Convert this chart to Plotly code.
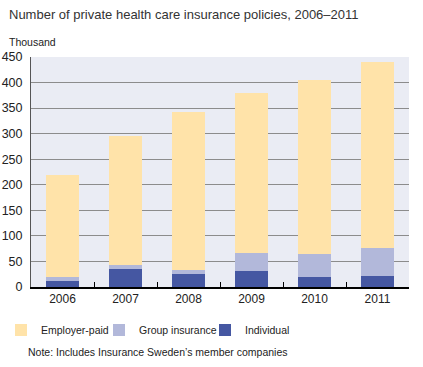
import plotly.graph_objects as go

years = ["2006", "2007", "2008", "2009", "2010", "2011"]
individual = [11, 36, 26, 32, 20, 22]
group_ins = [8, 7, 8, 35, 45, 55]
employer = [200, 252, 309, 312, 340, 364]

colors = {"Employer-paid": "#FFE3A9", "Group insurance": "#B2B8DA", "Individual": "#4557A2"}
legend_ids = {"Employer-paid": "legend", "Group insurance": "legend2", "Individual": "legend3"}

L, R, T, B = 31, 14, 57, 80
W, H = 423, 367
pw, ph = W - L - R, H - T - B

def px_x(x):
    return (x - L) / pw

def px_y(y):
    return (H - B - y) / ph

fig = go.Figure()
for name, vals in [("Individual", individual), ("Group insurance", group_ins), ("Employer-paid", employer)]:
    fig.add_trace(go.Bar(x=years, y=vals, name=name, legend=legend_ids[name],
                         marker=dict(color=colors[name], line=dict(width=0))))

def leg(text_x):
    return dict(orientation="h", x=px_x(text_x - 40), y=px_y(330), xanchor="left", yanchor="middle",
                font=dict(size=10.5), bgcolor="rgba(0,0,0,0)", itemwidth=30, borderwidth=0)

fig.update_layout(
    width=W, height=H,
    margin=dict(l=L, r=R, t=T, b=B, autoexpand=False),
    barmode="stack",
    bargap=0.47,
    paper_bgcolor="white",
    plot_bgcolor="#EAECF4",
    font=dict(family="Liberation Sans, Arial, sans-serif", color="#222222", size=12),
    showlegend=True,
    legend=leg(41), legend2=leg(139), legend3=leg(245),
    xaxis=dict(range=[-0.5, 5.5], showline=True, linecolor="black", linewidth=2, automargin=False,
               ticks="inside", tickson="boundaries", ticklen=5, tickcolor="black", tickwidth=1,
               showgrid=False, tickfont=dict(size=12), fixedrange=True),
    yaxis=dict(range=[0, 450], tickvals=[0, 50, 100, 150, 200, 250, 300, 350, 400, 450], automargin=False,
               showgrid=True, gridcolor="#8C8C8C", gridwidth=1, showline=True, linecolor="#555555", linewidth=1,
               ticks="", zeroline=False, tickfont=dict(size=12.5), ticklabelstandoff=5, fixedrange=True),
    annotations=[
        dict(text="Number of private health care insurance policies, 2006–2011", xref="paper", yref="paper",
             x=px_x(7), y=px_y(15), xanchor="left", yanchor="middle", showarrow=False,
             font=dict(size=13, color="#333333")),
        dict(text="Thousand", xref="paper", yref="paper",
             x=px_x(7), y=px_y(42), xanchor="left", yanchor="middle", showarrow=False,
             font=dict(size=10.5, color="#222222")),
        dict(text="Note: Includes Insurance Sweden’s member companies", xref="paper", yref="paper",
             x=px_x(26), y=px_y(352), xanchor="left", yanchor="middle", showarrow=False,
             font=dict(size=10.5, color="#222222")),
    ],
)

fig.write_html("out.html", config={"displayModeBar": False},
               post_script="document.body.style.margin='0';document.body.style.padding='0';")
